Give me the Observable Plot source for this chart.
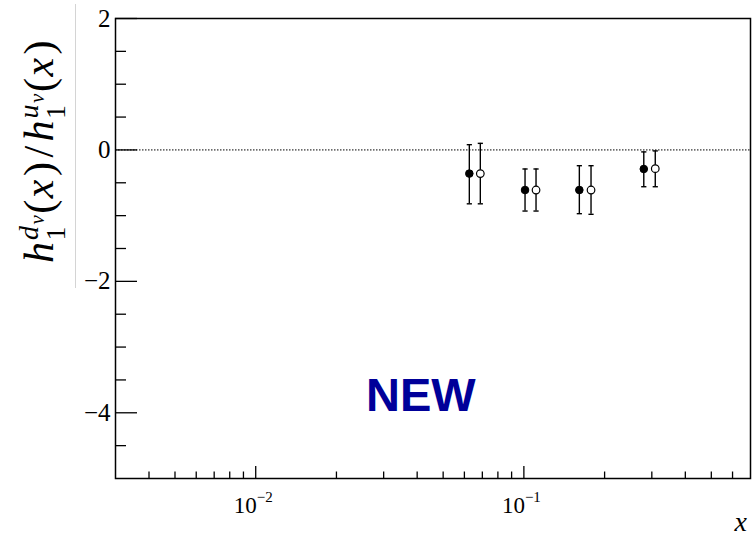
<!DOCTYPE html>
<html>
<head>
<meta charset="utf-8">
<script src="https://cdn.jsdelivr.net/npm/d3@7"></script>
<script src="https://cdn.jsdelivr.net/npm/@observablehq/plot@0.6"></script>
<style>
  html, body { margin: 0; padding: 0; background: #fff; }
  #chart { position: relative; width: 753px; height: 538px; }
  #chart svg text.serif-text, #chart svg g.serif-text text { font-family: "Liberation Serif", "Times New Roman", Tinos, "DejaVu Serif", serif; }
</style>
</head>
<body>
<div id="chart"></div>
<script>
// Ratio h1^dv / h1^uv at four x bins, two variants (filled and open markers)
const xFilled = [0.0626, 0.101, 0.161, 0.280];
const yFilled = [-0.36, -0.61, -0.61, -0.29];
const loFilled = [-0.82, -0.93, -0.97, -0.56];
const hiFilled = [0.08, -0.29, -0.24, -0.03];

const xOpen = [0.0688, 0.111, 0.178, 0.309];
const yOpen = [-0.36, -0.61, -0.61, -0.285];
const loOpen = [-0.82, -0.93, -0.98, -0.56];
const hiOpen = [0.10, -0.29, -0.24, -0.015];

// Axis ticks
const yMajorTicks = [-4, -2, 0, 2];
const yMinorTicks = [-4.5, -3.5, -3, -2.5, -1.5, -1, -0.5, 0.5, 1, 1.5];
const xMajorTicks = [0.01, 0.1];
const xMajorBase = ["10", "10"];
const xMajorExponent = ["\u22122", "\u22121"];
const xMinorTicks = [0.004, 0.005, 0.006, 0.007, 0.008, 0.009,
                     0.02, 0.03, 0.04, 0.05, 0.06, 0.07, 0.08, 0.09,
                     0.2, 0.3, 0.4, 0.5, 0.6];
const stamp = ["NEW"];

const filled = xFilled.map((x, i) => ({x, y: yFilled[i], lo: loFilled[i], hi: hiFilled[i]}));
const open = xOpen.map((x, i) => ({x, y: yOpen[i], lo: loOpen[i], hi: hiOpen[i]}));
const points = filled.concat(open);
const xLabels = xMajorTicks.map((x, i) => ({x, base: xMajorBase[i], exp: xMajorExponent[i]}));

// horizontal bar used as error-bar cap
const capSymbol = {
  draw(context, size) {
    const w = Math.sqrt(size / Math.PI);
    context.moveTo(-w, 0);
    context.lineTo(w, 0);
  }
};

const intFormat = d => (d < 0 ? "\u2212" + (-d) : String(d));

const chart = Plot.plot({
  width: 753,
  height: 538,
  marginLeft: 115,
  marginRight: 3,
  marginTop: 18,
  marginBottom: 60,
  style: {background: "#fff", overflow: "visible"},
  x: {type: "log", domain: [0.003, 0.7]},
  y: {domain: [-5, 2]},
  marks: [
    Plot.ruleY([0], {stroke: "#000", strokeWidth: 1, strokeDasharray: "1.5 1.5"}),
    // inward ticks
    Plot.axisY({ticks: yMajorTicks, tickSize: -22, tickFormat: () => "", label: null, strokeWidth: 1.3}),
    Plot.axisY({ticks: yMinorTicks, tickSize: -11, tickFormat: () => "", label: null, strokeWidth: 1.3}),
    Plot.axisX({ticks: xMajorTicks, tickSize: -12, tickFormat: () => "", label: null, strokeWidth: 1.3}),
    Plot.axisX({ticks: xMinorTicks, tickSize: -6.5, tickFormat: () => "", label: null, strokeWidth: 1.3}),
    // y tick labels
    Plot.axisY({ticks: yMajorTicks, tickSize: 0, tickPadding: 5, tickFormat: intFormat, label: null,
      fontSize: 25, fill: "#000", className: "serif-text"}),
    // x tick labels: 10 with superscript exponent
    Plot.text(xLabels, {x: "x", y: -5, text: "base", textAnchor: "end", dx: 1, dy: 27.6,
      fontSize: 23, fill: "#000", className: "serif-text"}),
    Plot.text(xLabels, {x: "x", y: -5, text: "exp", textAnchor: "start", dx: 1, dy: 19,
      fontSize: 15, fill: "#000", className: "serif-text"}),
    // error bars
    Plot.ruleX(points, {x: "x", y1: "lo", y2: "hi", stroke: "#000", strokeWidth: 1.4}),
    Plot.dot(points, {x: "x", y: "lo", symbol: capSymbol, r: 2.6, stroke: "#000", strokeWidth: 1.4, fill: "none"}),
    Plot.dot(points, {x: "x", y: "hi", symbol: capSymbol, r: 2.6, stroke: "#000", strokeWidth: 1.4, fill: "none"}),
    // markers
    Plot.dot(filled, {x: "x", y: "y", r: 3.8, fill: "#000", stroke: "#000", strokeWidth: 1}),
    Plot.dot(open, {x: "x", y: "y", r: 3.8, fill: "#fff", stroke: "#000", strokeWidth: 1.2}),
    // stamp
    Plot.text(stamp, {x: 0.0413, y: -3.75, text: d => d, fontSize: 47, fontWeight: "bold",
      fontFamily: "Liberation Sans, Arial, sans-serif", fill: "#000099"}),
    Plot.frame({stroke: "#000", strokeWidth: 1.5})
  ]
});

document.getElementById("chart").appendChild(chart);

// Axis titles with math sub/superscripts
const svg = d3.select(chart);
svg.append("line")
  .attr("x1", 75.5).attr("x2", 75.5).attr("y1", 4).attr("y2", 288)
  .attr("stroke", "#d4d4d4").attr("stroke-width", 1);

const yTitle = svg.append("text")
  .attr("class", "serif-text")
  .attr("transform", "translate(53,151) rotate(-90)")
  .attr("text-anchor", "middle")
  .attr("font-size", 42)
  .attr("letter-spacing", 1.5)
  .attr("fill", "#000");

const parts = [
  {t: "h", style: "italic"},
  {t: "1", size: 28, dy: 12},
  {t: "d", style: "italic", size: 28, dx: -15, dy: -27},
  {t: "v", style: "italic", size: 21, dy: 6},
  {t: "(", dy: 9},
  {t: "x", style: "italic"},
  {t: ")", dx: 2},
  {t: "/", dx: 3},
  {t: "h", style: "italic", dx: 3},
  {t: "1", size: 28, dy: 12},
  {t: "u", style: "italic", size: 28, dx: -15, dy: -27},
  {t: "v", style: "italic", size: 21, dy: 6},
  {t: "(", dy: 9},
  {t: "x", style: "italic"},
  {t: ")", dx: 2}
];
for (const p of parts) {
  const ts = yTitle.append("tspan").text(p.t);
  if (p.style) ts.attr("font-style", p.style);
  if (p.size) ts.attr("font-size", p.size);
  if (p.dx) ts.attr("dx", p.dx);
  if (p.dy) ts.attr("dy", p.dy);
}

svg.append("text")
  .attr("class", "serif-text")
  .attr("x", 747).attr("y", 531)
  .attr("text-anchor", "end")
  .attr("font-style", "italic")
  .attr("font-size", 28)
  .attr("fill", "#000")
  .text("x");
</script>
</body>
</html>
